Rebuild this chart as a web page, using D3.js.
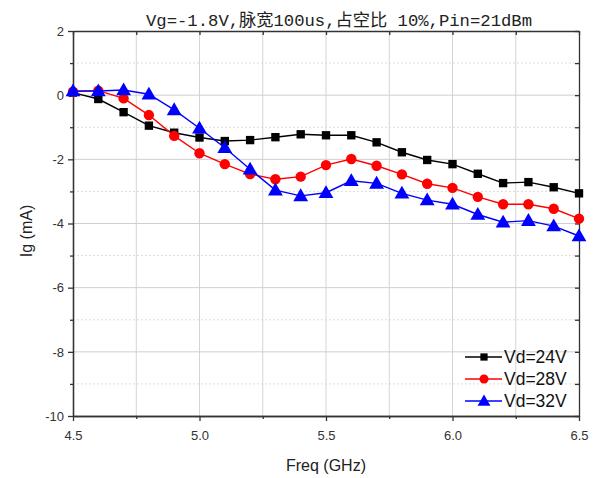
<!DOCTYPE html>
<html>
<head>
<meta charset="utf-8">
<script src="https://cdn.jsdelivr.net/npm/d3@7"></script>
<style>
  html, body { margin: 0; padding: 0; background: #fff; }
  svg { display: block; }
</style>
</head>
<body>
<svg id="chart" width="598" height="478"></svg>
<script>
// ---- data ----
const freq = [4.5, 4.6, 4.7, 4.8, 4.9, 5.0, 5.1, 5.2, 5.3, 5.4, 5.5, 5.6, 5.7, 5.8, 5.9, 6.0, 6.1, 6.2, 6.3, 6.4, 6.5];
const vd24 = [0.08, -0.12, -0.53, -0.95, -1.17, -1.32, -1.43, -1.40, -1.31, -1.22, -1.25, -1.25, -1.47, -1.78, -2.02, -2.15, -2.45, -2.74, -2.71, -2.87, -3.06];
const vd28 = [0.11, 0.14, -0.10, -0.62, -1.27, -1.81, -2.15, -2.46, -2.62, -2.54, -2.18, -1.99, -2.20, -2.47, -2.76, -2.89, -3.17, -3.40, -3.40, -3.54, -3.85];
const vd32 = [0.13, 0.13, 0.16, 0.03, -0.46, -1.03, -1.64, -2.31, -2.96, -3.14, -3.04, -2.67, -2.75, -3.06, -3.27, -3.40, -3.72, -3.96, -3.91, -4.08, -4.39];
const seriesNames = ["Vd=24V", "Vd=28V", "Vd=32V"];
const xTicks = [4.5, 5.0, 5.5, 6.0, 6.5];
const xMinorTicks = [4.75, 5.25, 5.75, 6.25];
const yTicks = [2, 0, -2, -4, -6, -8, -10];
const yMinorTicks = [1, -1, -3, -5, -7, -9];
const titleText = "Vg=-1.8V,脉宽100us,占空比 10%,Pin=21dBm";
const xLabel = "Freq (GHz)";
const yLabel = "Ig (mA)";

// ---- layout ----
const L = 73, R = 579, T = 31, B = 416;
const svg = d3.select("#chart");
const x = d3.scaleLinear().domain([4.5, 6.5]).range([L, R]);
const y = d3.scaleLinear().domain([-10, 2]).range([B, T]);

svg.append("rect").attr("width", 598).attr("height", 478).attr("fill", "#fff");

// grid
const grid = svg.append("g");
grid.selectAll(".vg").data(xTicks.slice(1, -1).concat(xMinorTicks)).enter().append("line")
  .attr("x1", d => x(d)).attr("x2", d => x(d)).attr("y1", T).attr("y2", B)
  .attr("stroke", "#d4d4d4").attr("stroke-width", 1);
grid.selectAll(".hg").data(yTicks.slice(1, -1)).enter().append("line")
  .attr("x1", L).attr("x2", R).attr("y1", d => y(d)).attr("y2", d => y(d))
  .attr("stroke", "#cfcfcf").attr("stroke-width", 1);
grid.selectAll(".hgm").data(yMinorTicks).enter().append("line")
  .attr("x1", L).attr("x2", R).attr("y1", d => y(d)).attr("y2", d => y(d))
  .attr("stroke", "#dcdcdc").attr("stroke-width", 1).attr("stroke-dasharray", "2,2");

// axes
const fmtY = d => String(d);
const axStyle = g => {
  g.selectAll("path,line").attr("stroke", "#333").attr("stroke-width", 1.3);
  g.selectAll("text").attr("font-family", "Liberation Sans, Arial, sans-serif").attr("font-size", 13).attr("fill", "#333");
};
svg.append("g").attr("transform", `translate(0,${B})`)
  .call(d3.axisBottom(x).tickValues(xTicks).tickFormat(d3.format(".1f")).tickSize(5).tickPadding(10).tickSizeOuter(0))
  .call(axStyle);
svg.append("g").attr("transform", `translate(0,${B})`)
  .call(d3.axisBottom(x).tickValues(xMinorTicks).tickFormat("").tickSize(3).tickSizeOuter(0))
  .call(axStyle);
svg.append("g").attr("transform", `translate(${L},0)`)
  .call(d3.axisLeft(y).tickValues(yTicks).tickFormat(fmtY).tickSize(5).tickPadding(4).tickSizeOuter(0))
  .call(axStyle);
svg.append("g").attr("transform", `translate(${L},0)`)
  .call(d3.axisLeft(y).tickValues(yMinorTicks).tickFormat("").tickSize(3).tickSizeOuter(0))
  .call(axStyle);
svg.append("g").attr("transform", `translate(0,${T})`)
  .call(d3.axisTop(x).tickValues(xTicks.concat(xMinorTicks)).tickFormat("").tickSize(-4).tickSizeOuter(0))
  .call(axStyle);
svg.append("g").attr("transform", `translate(${R},0)`)
  .call(d3.axisRight(y).tickValues(yTicks.concat(yMinorTicks)).tickFormat("").tickSize(-4).tickSizeOuter(0))
  .call(axStyle);

// series
const colors = ["#000000", "#ff0000", "#0000ff"];
const symbols = [d3.symbolSquare, d3.symbolCircle, d3.symbolTriangle];
const symSizes = [70, 85, 95];
const data = [vd24, vd28, vd32];
const line = d3.line().x((d, i) => x(freq[i])).y(d => y(d));
data.forEach((vals, k) => {
  const g = svg.append("g");
  g.append("path").datum(vals).attr("d", line).attr("fill", "none")
    .attr("stroke", colors[k]).attr("stroke-width", 1.4);
  g.selectAll("path.m").data(vals).enter().append("path").attr("class", "m")
    .attr("d", d3.symbol().type(symbols[k]).size(symSizes[k]))
    .attr("transform", (d, i) => `translate(${x(freq[i])},${y(d) + (k === 2 ? 1 : 0)})`)
    .attr("fill", colors[k]);
});

// legend
const lg = svg.append("g");
seriesNames.forEach((name, k) => {
  const yy = 357 + k * 22;
  lg.append("line").attr("x1", 465).attr("x2", 502).attr("y1", yy).attr("y2", yy)
    .attr("stroke", colors[k]).attr("stroke-width", 1.4);
  lg.append("path").attr("d", d3.symbol().type(symbols[k]).size(symSizes[k] * 0.75)())
    .attr("transform", `translate(484,${yy + (k === 2 ? 1 : 0)})`).attr("fill", colors[k]);
  lg.append("text").attr("x", 504).attr("y", yy + 6).text(name)
    .attr("font-family", "Liberation Sans, Arial, sans-serif").attr("font-size", 17.5).attr("fill", "#111");
});

// titles
svg.append("text").attr("x", 146).attr("y", 26).text(titleText)
  .attr("font-family", "Liberation Mono, Noto Sans CJK SC, monospace").attr("font-size", 17)
  .attr("fill", "#222").attr("textLength", 386).attr("lengthAdjust", "spacingAndGlyphs");
svg.append("text").attr("x", (L + R) / 2).attr("y", 471).attr("text-anchor", "middle").text(xLabel)
  .attr("font-family", "Liberation Sans, Arial, sans-serif").attr("font-size", 16).attr("fill", "#222");
svg.append("text").attr("transform", "translate(32,231) rotate(-90)").attr("text-anchor", "middle").text(yLabel)
  .attr("font-family", "Liberation Sans, Arial, sans-serif").attr("font-size", 16).attr("fill", "#222");
</script>
</body>
</html>
